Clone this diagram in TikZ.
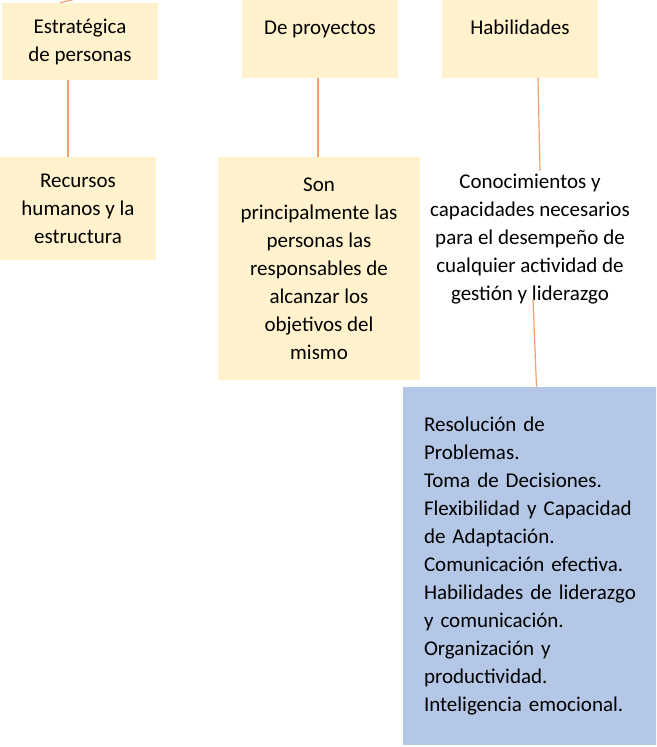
\documentclass[tikz,border=0pt]{standalone}
\usepackage{fontspec}
\setmainfont{Carlito}
\usepackage{xcolor}
\usetikzlibrary{positioning}
\definecolor{colorA}{HTML}{FFF2CC}
\definecolor{colorB}{HTML}{B4C7E7}
\definecolor{colorL}{HTML}{F4A06C}

\tikzset{
    yellowbox/.style={fill=colorA, inner sep=0pt, align=center},
    bluebox/.style={fill=colorB, align=left, text width=225pt, inner xsep=21pt, inner ysep=0pt},
    link/.style={draw=colorL, line width=1.2pt}
}

\begin{document}
\begin{tikzpicture}[x=1pt, y=-1pt, every node/.style={font=\fontsize{21}{28}\selectfont}]
        \clip (0,0) rectangle (656,747);
        \fill[white] (0,0) rectangle (656,747);

        % fila superior
        \node[yellowbox, minimum width=156pt, minimum height=77pt] (estrat) at (80,41.5) {Estratégica\\de personas};
        \node[yellowbox, minimum width=156pt, minimum height=97pt, text height=15pt, text depth=5pt] (proyectos) at (320,29) {De proyectos};
        \node[yellowbox, minimum width=156pt, minimum height=97pt, text height=15pt, text depth=5pt] (habil) at (520,29) {Habilidades};

        % segunda fila
        \node[yellowbox, minimum width=156pt, minimum height=103pt] (recursos) at (78,208.5) {Recursos\\humanos y la\\estructura};
        \node[yellowbox, minimum width=202pt, minimum height=223pt] (son) at (319,268.5) {Son\\principalmente las\\personas las\\responsables de\\alcanzar los\\objetivos del\\mismo};
        \node[inner sep=0pt, align=center, anchor=north] (conoc) at (530,174) {Conocimientos y\\capacidades necesarios\\para el desempeño de\\cualquier actividad de\\gestión y liderazgo};

        % lista
        \node[bluebox, minimum height=358pt] (lista) at (536.5,566) {Resolución de\\Problemas.\\Toma de Decisiones.\\Flexibilidad y Capacidad\\de Adaptación.\\Comunicación efectiva.\\Habilidades de liderazgo\\y comunicación.\\Organización y\\productividad.\\Inteligencia emocional.};

        % conectores
        \coordinate (arriba) at (100,-7);
        \draw[link] ([xshift=-20pt]estrat.north) -- (arriba);
        \draw[link] ([xshift=-12pt]estrat.south) -- ([xshift=-10pt]recursos.north);
        \draw[link] ([xshift=-2pt]proyectos.south) -- ([xshift=-1pt]son.north);
        \draw[link] ([xshift=18pt]habil.south) -- ([xshift=10pt,yshift=3pt]conoc.north);
        \draw[link] ([xshift=3pt,yshift=5pt]conoc.south) -- (lista.north);
\end{tikzpicture}
\end{document}
